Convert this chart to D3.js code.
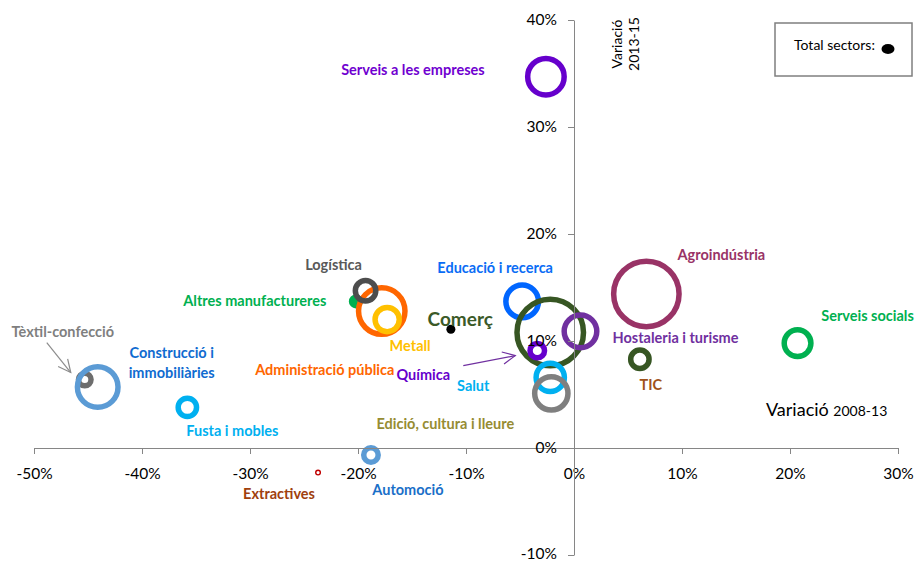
<!DOCTYPE html>
<html>
<head>
<meta charset="utf-8">
<script src="https://cdn.jsdelivr.net/npm/d3@7"></script>
<style>
  html, body { margin: 0; padding: 0; background: #fff; }
  svg { display: block; font-family: Lato, "Open Sans", sans-serif; }
</style>
</head>
<body>
<svg id="chart" width="916" height="561"></svg>
<script>
// ---------------- DATA ----------------
const sectors = ["Tèxtil-confecció", "Construcció i immobiliàries", "Fusta i mobles", "Extractives",
  "Automoció", "Altres manufactureres", "Administració pública", "Metall", "Logística",
  "Edició, cultura i lleure", "Salut", "Educació i recerca", "Comerç", "Química",
  "Hostaleria i turisme", "Serveis a les empreses", "Agroindústria", "TIC", "Serveis socials"];
// Variació 2008-13 (x)
const var0813 = [-45.3, -44.1, -35.8, -23.7, -18.8, -20.2, -17.8, -17.3, -19.3,
  -2.1, -2.2, -4.8, -2.2, -3.4, 0.6, -2.6, 6.7, 6.1, 20.7];
// Variació 2013-15 (y)
const var1315 = [6.4, 5.7, 3.8, -2.3, -0.65, 13.7, 12.8, 12.0, 14.7,
  5.1, 6.6, 13.7, 10.8, 9.1, 10.9, 34.7, 14.4, 8.3, 9.8];
// Bubble size (relative employment weight)
const sizes = [6.3, 41, 11, 0.7, 7.7, 3.8, 52, 17, 13, 29, 22, 28, 100, 7.7, 28, 34, 97, 11, 20];
// Total sectors point
const totalSectors = { x: -11.4, y: 11.1 };
const xTicks = [-50, -40, -30, -20, -10, 0, 10, 20, 30];
const yTicks = [-10, 0, 10, 20, 30, 40];

// ---------------- STYLES / LAYOUT ----------------
const ringColor = {
  "Tèxtil-confecció": "#6d6d6d", "Construcció i immobiliàries": "#5b9bd5", "Fusta i mobles": "#00b0f0",
  "Extractives": "#c00000", "Automoció": "#5b9bd5", "Altres manufactureres": "#00b050",
  "Administració pública": "#ff6600", "Metall": "#ffc000", "Logística": "#4d4d4d",
  "Edició, cultura i lleure": "#7f7f7f", "Salut": "#00b0f0", "Educació i recerca": "#0066ff",
  "Comerç": "#375623", "Química": "#6600cc", "Hostaleria i turisme": "#7030a0",
  "Serveis a les empreses": "#6600cc", "Agroindústria": "#993366", "TIC": "#375623",
  "Serveis socials": "#00b050"
};
const labelColor = {
  "Tèxtil-confecció": "#7f7f7f", "Construcció i immobiliàries": "#0f6bd0", "Fusta i mobles": "#00b0f0",
  "Extractives": "#a0400d", "Automoció": "#1a6fc8", "Altres manufactureres": "#00b050",
  "Administració pública": "#ff6600", "Metall": "#ffc000", "Logística": "#595959",
  "Edició, cultura i lleure": "#968c32", "Salut": "#00b0f0", "Educació i recerca": "#0a6cf5",
  "Comerç": "#3b5a28", "Química": "#6600cc", "Hostaleria i turisme": "#7030a0",
  "Serveis a les empreses": "#7000d0", "Agroindústria": "#993366", "TIC": "#a0521a",
  "Serveis socials": "#00b050"
};
// label offsets (px) from bubble centre
const labelOffset = {
  "Tèxtil-confecció": [-22, -48], "Construcció i immobiliàries": [74, -34], "Fusta i mobles": [45, 24],
  "Extractives": [-39, 21], "Automoció": [37, 35], "Altres manufactureres": [-101, 0],
  "Administració pública": [-57, 59], "Metall": [23, 26], "Logística": [-32, -26],
  "Edició, cultura i lleure": [-106, 31], "Salut": [-77, 9], "Educació i recerca": [-27, -33],
  "Comerç": [-90, -13], "Química": [-114, 24], "Hostaleria i turisme": [95, 7],
  "Serveis a les empreses": [-133, -7], "Agroindústria": [75, -39], "TIC": [11, 26],
  "Serveis socials": [70, -27]
};
const drawOrder = ["Tèxtil-confecció", "Construcció i immobiliàries", "Fusta i mobles", "Extractives",
  "Automoció", "Altres manufactureres", "Administració pública", "Metall", "Logística",
  "Educació i recerca", "Comerç", "Química", "Hostaleria i turisme", "Salut", "Edició, cultura i lleure",
  "Serveis a les empreses", "Agroindústria", "TIC", "Serveis socials"];

const svg = d3.select("#chart");
const x = d3.scaleLinear().domain([-50, 30]).range([34, 898]);
const y = d3.scaleLinear().domain([-10, 40]).range([555, 20]);
const r = d3.scaleSqrt().domain([0, 100]).range([0, 36]);

const data = sectors.map((s, i) => ({ name: s, x: var0813[i], y: var1315[i], size: sizes[i] }));
const byName = Object.fromEntries(data.map(d => [d.name, d]));

// ---------------- BUBBLES ----------------
const gB = svg.append("g");
drawOrder.forEach(n => {
  const d = byName[n];
  const R = r(d.size);
  let sw = 5.5;
  if (R < 5) sw = 1.4;
  else if (R < 8) sw = R;
  gB.append("circle")
    .attr("cx", x(d.x)).attr("cy", y(d.y))
    .attr("r", Math.max(R - sw / 2, 0.5))
    .attr("fill", "none")
    .attr("stroke", ringColor[n])
    .attr("stroke-width", sw);
});

// total sectors dot
svg.append("circle")
  .attr("cx", x(totalSectors.x)).attr("cy", y(totalSectors.y))
  .attr("r", 4.5).attr("fill", "#000");

// ---------------- LABELS ----------------
const gL = svg.append("g").attr("font-weight", 700).attr("text-anchor", "middle");
data.forEach(d => {
  const [dx, dy] = labelOffset[d.name];
  const cx = x(d.x) + dx, cy = y(d.y) + dy;
  const t = gL.append("text")
    .attr("fill", labelColor[d.name])
    .attr("font-size", d.name === "Comerç" ? 19 : 14.5);
  if (d.name === "Construcció i immobiliàries") {
    t.append("tspan").attr("x", cx).attr("y", cy + 5).text("Construcció i");
    t.append("tspan").attr("x", cx).attr("y", cy + 25).text("immobiliàries");
  } else {
    t.attr("x", cx).attr("y", cy + (d.name === "Comerç" ? 6.5 : 5)).text(d.name);
  }
});

// ---------------- ANNOTATION ARROWS ----------------
function arrow(x1, y1, x2, y2, color) {
  const ang = Math.atan2(y2 - y1, x2 - x1);
  const L = 14, a = 0.45;
  const g = svg.append("g").attr("stroke", color).attr("stroke-width", 1.2).attr("fill", "none");
  g.append("line").attr("x1", x1).attr("y1", y1).attr("x2", x2).attr("y2", y2);
  g.append("path").attr("d",
    `M${x2 - L * Math.cos(ang - a)},${y2 - L * Math.sin(ang - a)}L${x2},${y2}L${x2 - L * Math.cos(ang + a)},${y2 - L * Math.sin(ang + a)}`);
}
const tex = byName["Tèxtil-confecció"], qui = byName["Química"];
arrow(x(tex.x) - 38, y(tex.y) - 37, x(tex.x) - 14, y(tex.y) - 7, "#8c8c8c");
arrow(x(qui.x) - 74, y(qui.y) + 15, x(qui.x) - 22, y(qui.y) + 5, "#7030a0");

// ---------------- AXES ----------------
const axisColor = "#868686";
const gx = svg.append("g").attr("transform", `translate(0,${y(0)})`)
  .call(d3.axisBottom(x).tickValues(xTicks).tickSize(6).tickSizeOuter(0).tickFormat(d => d + "%"));
const gy = svg.append("g").attr("transform", `translate(${x(0)},0)`)
  .call(d3.axisLeft(y).tickValues(yTicks).tickSize(6).tickSizeOuter(0).tickPadding(11).tickFormat(d => d + "%"));
[gx, gy].forEach(g => {
  g.select(".domain").attr("stroke", axisColor);
  g.selectAll(".tick line").attr("stroke", axisColor);
  g.selectAll(".tick text").attr("fill", "#000").attr("font-size", 15.5)
    .attr("font-family", "Lato, 'Open Sans', sans-serif");
});
gx.selectAll(".tick text").attr("y", 31).attr("dy", 0);
gy.selectAll(".tick text").filter(d => d === -10).attr("dy", "0.22em");

// ---------------- AXIS TITLES ----------------
const tX = svg.append("text").attr("x", 766).attr("y", 416).attr("fill", "#000");
tX.append("tspan").attr("font-size", 18).text("Variació ");
tX.append("tspan").attr("font-size", 14).text("2008-13");

svg.append("text").attr("transform", "translate(622,44) rotate(-90)")
  .attr("text-anchor", "middle").attr("font-size", 14).attr("fill", "#000").text("Variació");
svg.append("text").attr("transform", "translate(639,44) rotate(-90)")
  .attr("text-anchor", "middle").attr("font-size", 14).attr("fill", "#000").text("2013-15");

// ---------------- LEGEND ----------------
svg.append("rect").attr("x", 775).attr("y", 23).attr("width", 137).attr("height", 53)
  .attr("fill", "#fff").attr("stroke", "#7f7f7f").attr("stroke-width", 1.5);
svg.append("text").attr("x", 794).attr("y", 50).attr("font-size", 14).attr("fill", "#000").text("Total sectors:");
svg.append("ellipse").attr("cx", 888).attr("cy", 49).attr("rx", 6.5).attr("ry", 5).attr("fill", "#000");
</script>
</body>
</html>
